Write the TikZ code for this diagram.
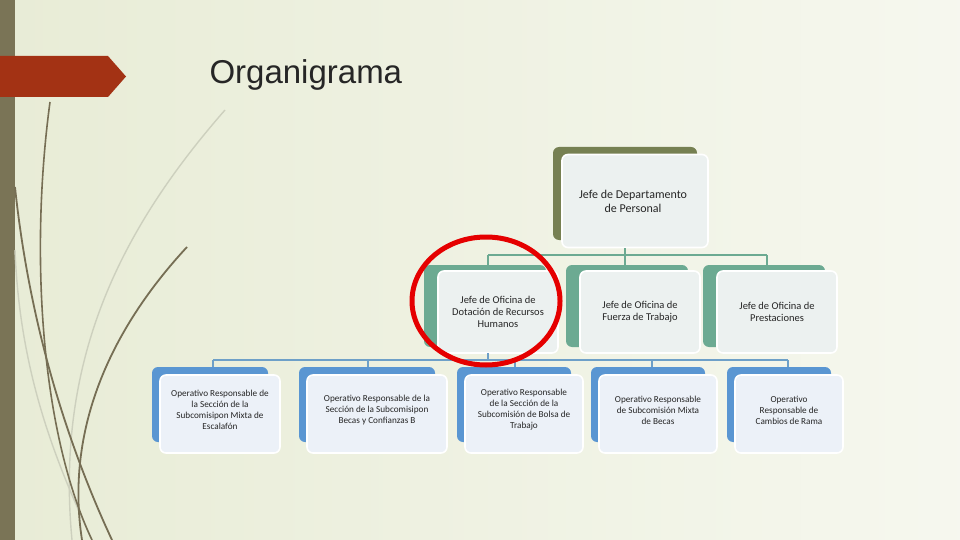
\documentclass[tikz,border=0pt]{standalone}
\usepackage{fontspec}
\setmainfont{Carlito}
\newfontfamily\titlefont{Liberation Sans}
\begin{document}
\begin{tikzpicture}[x=1pt,y=-1pt,
  front/.style={draw=white,line width=1.6pt,rounded corners=6pt,fill=#1},
  back/.style={fill=#1,rounded corners=6pt},
  lbl/.style={align=center,font=\fontsize{10.5}{12}\selectfont,text=black!85},
  conn/.style={draw=#1,line width=1.2pt}]
\definecolor{bgA}{RGB}{232,236,214}
\definecolor{olivebar}{RGB}{122,116,86}
\definecolor{banner}{RGB}{163,50,20}
\definecolor{topback}{RGB}{118,128,82}
\definecolor{midback}{RGB}{108,170,146}
\definecolor{midline}{RGB}{108,170,146}
\definecolor{lowback}{RGB}{90,150,210}
\definecolor{lowline}{RGB}{110,160,200}
\definecolor{boxfill}{RGB}{236,241,240}
\definecolor{lowfill}{RGB}{236,241,248}
\definecolor{darkcurve}{RGB}{118,110,84}
\definecolor{lightcurve}{RGB}{205,208,190}
\useasboundingbox (0,0) rectangle (960,540);
\shade[left color=bgA,right color=white!60!bgA] (0,0) rectangle (960,540);
\fill[olivebar] (0,0) rectangle (15,540);
\fill[banner] (0,56) -- (108,56) -- (126,76.5) -- (108,97) -- (0,97) -- cycle;
% decorative curves
\draw[lightcurve,line width=1.4pt] (225,110) .. controls (120,230) and (55,360) .. (72,540);
\draw[lightcurve,line width=1.4pt] (15,250) .. controls (20,380) and (60,470) .. (92,540);
\draw[darkcurve,line width=1.8pt] (15,187) .. controls (30,330) and (70,450) .. (112,540);
\draw[darkcurve,line width=1.6pt] (50,102) .. controls (30,250) and (40,430) .. (92,540);
\draw[darkcurve,line width=1.8pt] (187,247) .. controls (110,330) and (65,430) .. (82,540);
% title
\node[anchor=west,font=\titlefont\fontsize{33}{38}\selectfont,text=black!85] (title) at (206,75) {Organigrama};
% top box
\fill[back=topback] (553,147) rectangle (697,240);
\node[front=boxfill,minimum width=146pt,minimum height=93pt] (top) at (635,201) {};
\node[lbl,font=\fontsize{12}{14}\selectfont] (toptext) at (633,201) {Jefe de Departamento\\de Personal};
% mid boxes
\foreach \n/\cx/\t in {m1/498/{Jefe de Oficina de\\Dotación de Recursos\\Humanos},m2/640/{Jefe de Oficina de\\Fuerza de Trabajo},m3/777/{Jefe de Oficina de\\Prestaciones}}{
  \fill[back=midback] (\cx-74,265) rectangle (\cx+48,347);
  \node[front=boxfill,minimum width=120pt,minimum height=82pt] (\n) at (\cx,312) {};
  \node[lbl] at (\cx,312) {\t};
}
% low boxes
\foreach \n/\cx/\w/\t in {l1/220/120/{Operativo Responsable de\\la Sección de la\\Subcomisipon Mixta de\\Escalafón},l2/377/140/{Operativo Responsable de la\\Sección de la Subcomisipon\\Becas y Confianzas B},l3/524/118/{Operativo Responsable\\de la Sección de la\\Subcomisión de Bolsa de\\Trabajo},l4/658/118/{Operativo Responsable\\de Subcomisión Mixta\\de Becas},l5/789/108/{Operativo\\Responsable de\\Cambios de Rama}}{
  \fill[back=lowback] (\cx-\w/2-8,367) rectangle (\cx+\w/2-12,442);
  \node[front=lowfill,minimum width=\w pt,minimum height=78pt] (\n) at (\cx,414) {};
  \node[lbl,font=\fontsize{9.2}{11}\selectfont] at (\cx,410) {\t};
}
% connectors
\coordinate (bt) at (625,255);
\draw[conn=midline] (top.south -| bt) -- (bt);
\draw[conn=midline] (488,255) -- (767,255);
\draw[conn=midline] (488,255) -- (488,265);
\draw[conn=midline] (625,255) -- (625,265);
\draw[conn=midline] (767,255) -- (767,265);
\draw[conn=lowline] (488,353) -- (488,360);
\draw[conn=lowline] (213,360) -- (788,360);
\foreach \x in {213,368,515,652,788} \draw[conn=lowline] (\x,360) -- (\x,367);
% red circle
\draw[red!90!black,line width=5pt] (486,301) ellipse (74pt and 64pt);
\end{tikzpicture}
\end{document}
